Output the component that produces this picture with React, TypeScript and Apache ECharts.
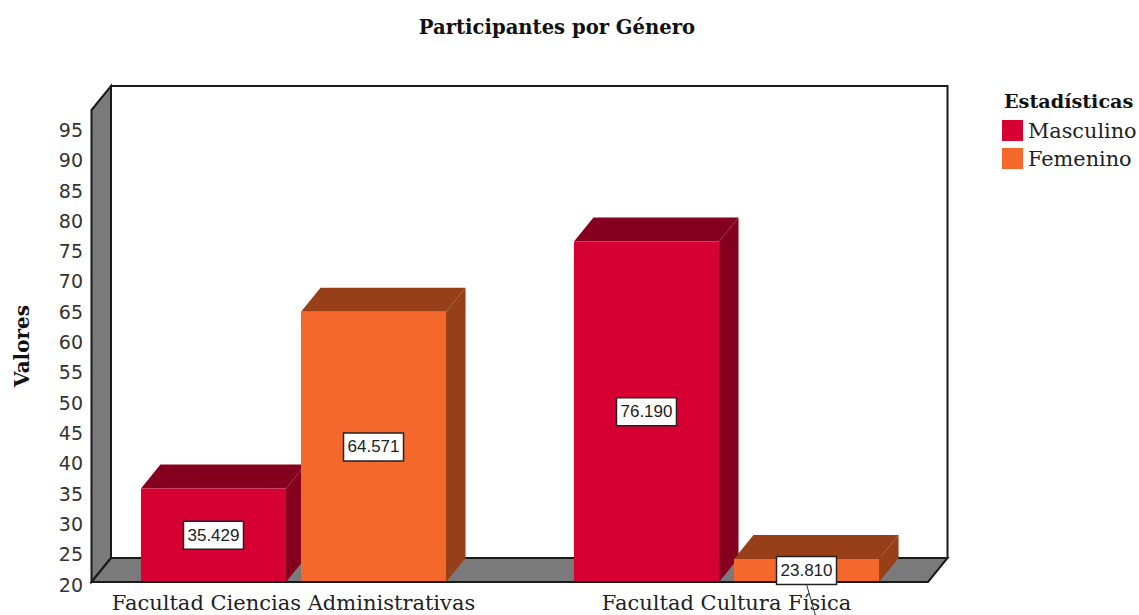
import React, { useEffect, useRef } from "react";
import * as echarts from "echarts";

const categories = ["Facultad Ciencias Administrativas", "Facultad Cultura Física"];
const masculino = [35.429, 76.19];
const femenino = [64.571, 23.81];
const yMin = 20;
const yMax = 97.88;

const DEPTH_X = 19.5;
const DEPTH_Y = 24;
const SERIF = '"DejaVu Serif", serif';
const SANS = '"DejaVu Sans", sans-serif';

function bars(front: string, dark: string, sign: number, layer: number) {
  return (params: any, api: any) => {
    const idx = api.value(0);
    const val = api.value(1);
    const [cx, yTop] = api.coord([idx, val]);
    const [, yBase] = api.coord([idx, yMin]);
    const band = api.size([1, 0])[0];
    const w = band * 0.335;
    const x0 = cx + sign * band * 0.1848 - w / 2;
    const x1 = x0 + w;
    const labelText = val.toFixed(3);
    const boxW = 60;
    const boxH = 28;
    const lx = x0 + w / 2;
    const ly = (yTop + yBase) / 2;
    const needsLeader = val < 30;
    const children: any[] = [
      {
        type: "polygon",
        z2: layer,
        shape: { points: [[x1, yTop], [x1 + DEPTH_X, yTop - DEPTH_Y], [x1 + DEPTH_X, yBase - DEPTH_Y], [x1, yBase]] },
        style: { fill: dark },
      },
      {
        type: "polygon",
        z2: layer,
        shape: { points: [[x0, yTop], [x0 + DEPTH_X, yTop - DEPTH_Y], [x1 + DEPTH_X, yTop - DEPTH_Y], [x1, yTop]] },
        style: { fill: dark },
      },
      {
        type: "rect",
        z2: layer,
        shape: { x: x0, y: yTop, width: w, height: yBase - yTop },
        style: { fill: front },
      },
      {
        type: "rect",
        z2: 10,
        shape: { x: lx - boxW / 2, y: ly - boxH / 2, width: boxW, height: boxH },
        style: { fill: "#ffffff", stroke: "#222222", lineWidth: 1.5 },
      },
      {
        type: "text",
        z2: 11,
        x: lx,
        y: ly,
        style: {
          text: labelText,
          fill: "#222222",
          font: '17px "Liberation Sans", Arial, sans-serif',
          align: "center",
          verticalAlign: "middle",
        },
      },
    ];
    if (needsLeader) {
      children.push({
        type: "line",
        z2: 11,
        shape: { x1: lx, y1: ly + boxH / 2, x2: lx + 9, y2: ly + boxH / 2 + 31 },
        style: { stroke: "#333333", lineWidth: 1 },
      });
    }
    return { type: "group", children };
  };
}

function walls(params: any, api: any) {
  const cs = params.coordSys;
  const left = cs.x + 14.5;
  const right = cs.x + cs.width - 15;
  const top = cs.y;
  const bottom = cs.y + cs.height;
  const line = { stroke: "#1a1a1a", lineWidth: 2, lineJoin: "miter" };
  return {
    type: "group",
    children: [
      {
        type: "rect",
        shape: { x: left + DEPTH_X, y: top - DEPTH_Y, width: right - left, height: cs.height },
        style: { fill: "#ffffff", ...line },
      },
      {
        type: "polygon",
        shape: { points: [[left, top], [left + DEPTH_X, top - DEPTH_Y], [left + DEPTH_X, bottom - DEPTH_Y], [left, bottom]] },
        style: { fill: "#7a7a7a", ...line },
      },
      {
        type: "polygon",
        shape: { points: [[left, bottom], [right, bottom], [right + DEPTH_X, bottom - DEPTH_Y], [left + DEPTH_X, bottom - DEPTH_Y]] },
        style: { fill: "#7a7a7a", ...line },
      },
    ],
  };
}

function frontEdge(params: any, api: any) {
  const cs = params.coordSys;
  const left = cs.x + 14.5;
  const right = cs.x + cs.width - 15;
  const bottom = cs.y + cs.height;
  return {
    type: "line",
    z2: 5,
    shape: { x1: left, y1: bottom, x2: right, y2: bottom },
    style: { stroke: "#1a1a1a", lineWidth: 2 },
  };
}

export default function App() {
  const ref = useRef<HTMLDivElement>(null);
  useEffect(() => {
    const chart = echarts.init(ref.current!, undefined, { renderer: "svg" });
    chart.setOption({
      animation: false,
      backgroundColor: "#ffffff",
      title: [
        {
          text: "Participantes por Género",
          left: 552,
          top: 12,
          textAlign: "center",
          textStyle: { fontFamily: SERIF, fontWeight: "bold", fontSize: 19.6, color: "#111" },
        },
        {
          text: "Estadísticas",
          left: 999,
          top: 87,
          textStyle: { fontFamily: SERIF, fontWeight: "bold", fontSize: 19.2, color: "#111" },
        },
      ],
      legend: {
        data: ["Masculino", "Femenino"],
        orient: "vertical",
        left: 997,
        top: 115,
        itemWidth: 21,
        itemHeight: 21,
        itemGap: 7,
        icon: "rect",
        textStyle: { fontFamily: SERIF, fontSize: 20.8, color: "#222" },
      },
      grid: { left: 77, right: 196, top: 110, bottom: 33, outerBoundsMode: "none" },
      xAxis: {
        type: "category",
        data: categories,
        axisLine: { show: false },
        axisTick: { show: false },
        splitLine: { show: false },
        axisLabel: { interval: 0, margin: 10, fontFamily: SERIF, fontSize: 21, color: "#222" },
      },
      yAxis: {
        type: "value",
        min: yMin,
        max: yMax,
        interval: 5,
        name: "Valores",
        nameLocation: "middle",
        nameRotate: 90,
        nameGap: 45,
        nameTextStyle: { fontFamily: SERIF, fontWeight: "bold", fontSize: 20, color: "#111" },
        axisLine: { show: false },
        axisTick: { show: false },
        splitLine: { show: false },
        axisLabel: { margin: -6, verticalAlign: "top", lineHeight: 5, showMaxLabel: false, fontFamily: SANS, fontSize: 19, color: "#333" },
      },
      series: [
        { type: "custom", name: "walls", z: 1, silent: true, data: [[0, yMin]], encode: { x: 0, y: 1 }, renderItem: walls },
        {
          type: "custom",
          name: "Masculino",
          z: 2,
          itemStyle: { color: "#d60032" },
          data: categories.map((_, i) => [i, masculino[i]]),
          encode: { x: 0, y: 1 },
          renderItem: bars("#d60032", "#85001f", -1, 1),
        },
        {
          type: "custom",
          name: "Femenino",
          z: 2,
          itemStyle: { color: "#f4682b" },
          data: categories.map((_, i) => [i, femenino[i]]),
          encode: { x: 0, y: 1 },
          renderItem: bars("#f4682b", "#963f18", 1, 2),
        },
        { type: "custom", name: "edge", z: 2, silent: true, data: [[0, yMin]], encode: { x: 0, y: 1 }, renderItem: frontEdge },
      ],
    });
    return () => chart.dispose();
  }, []);
  return <div ref={ref} style={{ position: "fixed", left: 0, top: 0, width: 1139, height: 615 }} />;
}
